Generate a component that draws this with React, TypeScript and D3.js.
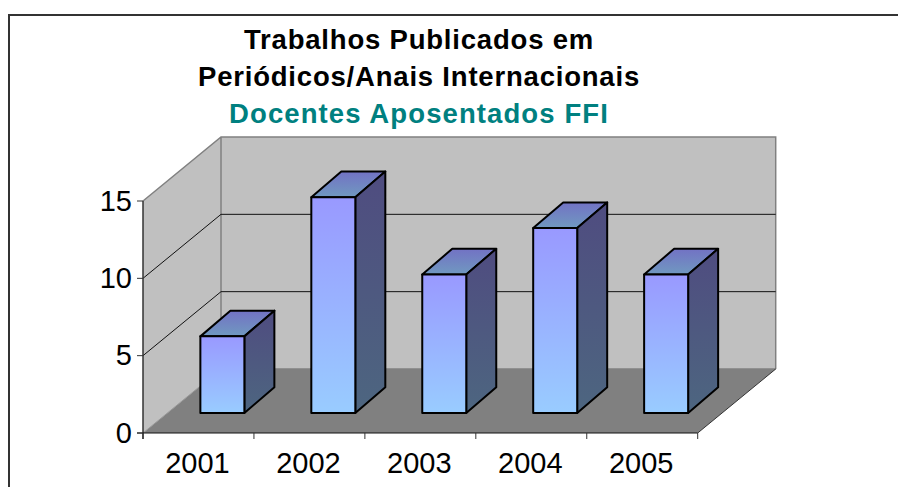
import React from "react";
import * as d3 from "d3";

const categories = ["2001", "2002", "2003", "2004", "2005"];
const values = [5, 14, 9, 12, 9];
const yTicks = [0, 5, 10, 15];
const titleLines = ["Trabalhos Publicados em", "Periódicos/Anais Internacionais"];
const subtitle = "Docentes Aposentados FFI";

const W = 898, H = 487;
const FONT = "'Liberation Sans', Arial, sans-serif";
const x0 = 143, x1 = 697.7, yBase = 433, yTop = 201;
const depthX = 78, depthY = 64;
const barOffX = 23.9, barOffY = 20;
const barW = 44, barDX = 30, barDY = 25.7;

export default function App() {
  const x = d3.scaleBand<string>().domain(categories).range([x0, x1]);
  const y = d3.scaleLinear().domain([0, 15]).range([yBase, yTop]);
  const poly = (pts: number[][]) => pts.map((p) => p.join(",")).join(" ");
  const backX0 = x0 + depthX, backX1 = x1 + depthX;
  const backBase = yBase - depthY, backTop = yTop - depthY;

  return (
    <svg width={W} height={H} style={{ position: "fixed", left: 0, top: 0, display: "block" }}>
      <defs>
        <linearGradient id="front" x1="0" y1="0" x2="0" y2="1">
          <stop offset="0" stopColor="#9999ff" />
          <stop offset="1" stopColor="#99ccff" />
        </linearGradient>
        <linearGradient id="side" x1="0" y1="0" x2="0" y2="1">
          <stop offset="0" stopColor="#4f4c80" />
          <stop offset="1" stopColor="#4d6680" />
        </linearGradient>
        <linearGradient id="top" x1="0" y1="0" x2="0" y2="1">
          <stop offset="0" stopColor="#7272c4" />
          <stop offset="1" stopColor="#7099c0" />
        </linearGradient>
      </defs>
      <rect width={W} height={H} fill="#fff" />
      <path d={`M9 ${H}V15H${W}`} fill="none" stroke="#333" strokeWidth={2} />

      {titleLines.map((t, i) => (
        <text key={t} x={419} y={49 + i * 36.5} textAnchor="middle" fontFamily={FONT}
          fontWeight="bold" fontSize={27.5} letterSpacing={0.8} fill="#000">{t}</text>
      ))}
      <text x={419} y={123} textAnchor="middle" fontFamily={FONT} fontWeight="bold"
        fontSize={27.5} letterSpacing={1.1} fill="#008080">{subtitle}</text>

      {/* walls and floor */}
      <polygon points={poly([[x0, yBase], [x0, yTop], [backX0, backTop], [backX0, backBase]])} fill="#c0c0c0" />
      <polygon points={poly([[backX0, backBase], [backX0, backTop], [backX1, backTop], [backX1, backBase]])} fill="#c0c0c0" />
      <polygon points={poly([[x0, yBase], [backX0, backBase], [backX1, backBase], [x1, yBase]])} fill="#808080" />
      <path d={`M${x0} ${yTop}L${backX0} ${backTop}H${backX1}V${backBase}M${backX0} ${backTop}V${backBase}H${backX1}`}
        fill="none" stroke="#808080" strokeWidth={1.5} />
      <path d={`M${backX1} ${backBase}L${x1} ${yBase}`} fill="none" stroke="#333" strokeWidth={1} />
      <path d={`M${x0} ${yBase}L${backX0} ${backBase}`} fill="none" stroke="#999" strokeWidth={1} />

      {/* gridlines */}
      {yTicks.filter((t) => t > 0 && t < 15).map((t) => (
        <path key={t} d={`M${x0} ${y(t)}L${backX0} ${y(t) - depthY}H${backX1}`} fill="none" stroke="#111" strokeWidth={1} />
      ))}

      {/* axes */}
      <path d={`M${x0} ${yTop}V${yBase + 6}`} stroke="#333" strokeWidth={1.5} fill="none" />
      <path d={`M${x0 - 6} ${yBase}H${x1}`} stroke="#111" strokeWidth={1} fill="none" />
      {yTicks.map((t) => (
        <g key={t}>
          <path d={`M${x0 - 6} ${y(t)}H${x0}`} stroke="#333" strokeWidth={1} />
          <text x={132} y={y(t) + 9.5} textAnchor="end" fontFamily={FONT} fontSize={29} fill="#000">{t}</text>
        </g>
      ))}
      {[...categories, ""].map((c, i) => {
        const tx = x0 + i * x.bandwidth();
        return <path key={i} d={`M${tx} ${yBase}V${yBase + 6}`} stroke="#333" strokeWidth={1} />;
      })}
      {categories.map((c) => (
        <text key={c} x={(x(c) as number) + x.bandwidth() / 2 - 1} y={473} textAnchor="middle"
          fontFamily={FONT} fontSize={29} fill="#000">{c}</text>
      ))}

      {/* bars */}
      {categories.map((c, i) => {
        const cx = (x(c) as number) + x.bandwidth() / 2 + barOffX;
        const l = cx - barW / 2, r = cx + barW / 2;
        const b = yBase - barOffY;
        const t = y(values[i]) - barOffY + 0.7;
        return (
          <g key={c} stroke="#000" strokeWidth={2} strokeLinejoin="round">
            <polygon points={poly([[l, t], [r, t], [r + barDX, t - barDY], [l + barDX, t - barDY]])} fill="url(#top)" />
            <polygon points={poly([[r, t], [r + barDX, t - barDY], [r + barDX, b - barDY], [r, b]])} fill="url(#side)" />
            <rect x={l} y={t} width={barW} height={b - t} fill="url(#front)" />
          </g>
        );
      })}
    </svg>
  );
}
